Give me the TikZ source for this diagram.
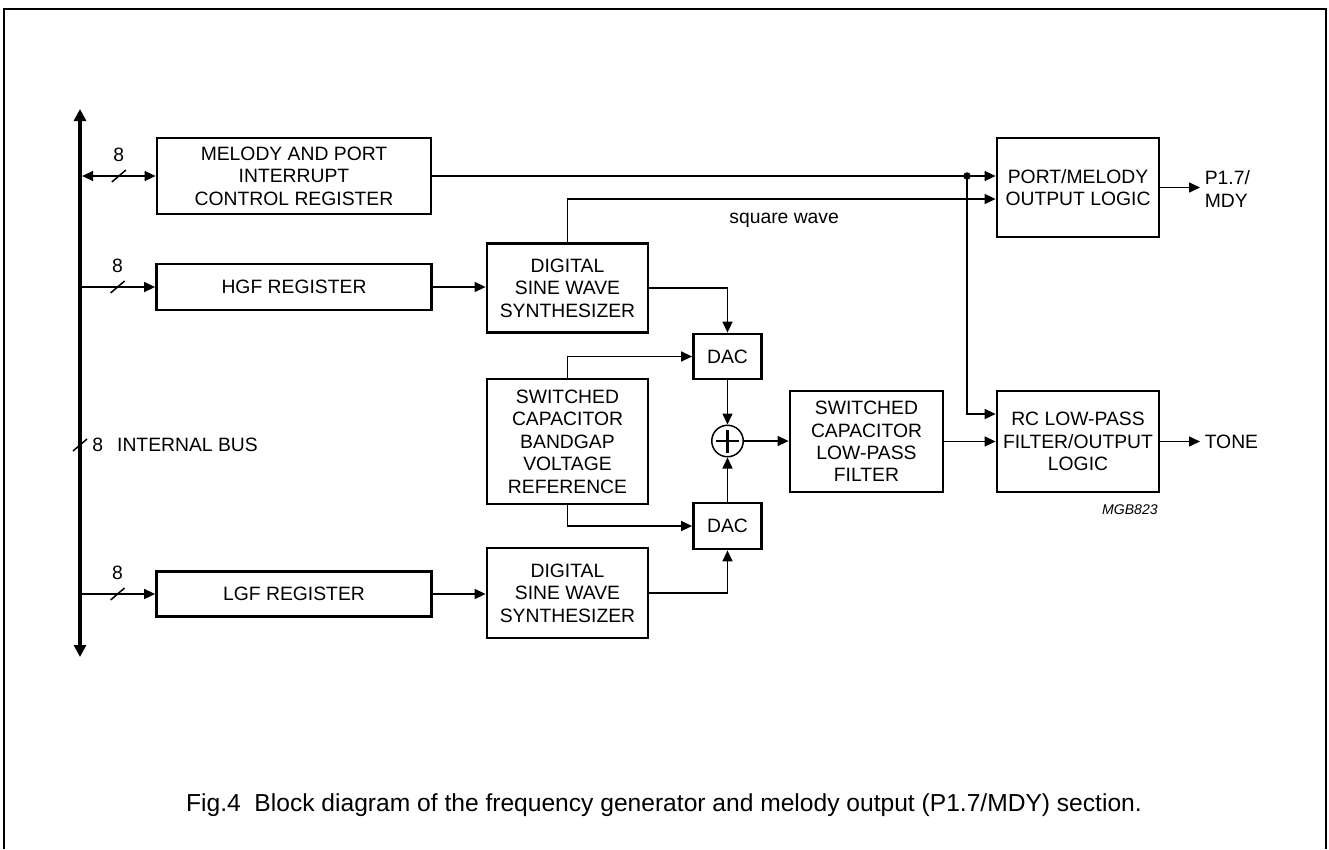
\documentclass[tikz,border=0pt]{standalone}
\usepackage{fontspec}
\setmainfont{Liberation Sans}
\usetikzlibrary{arrows.meta}

\newcommand{\busslash}[1]{\draw[wire] (#1) ++(-7,6) -- ++(14,-12);}

\tikzset{
  blk/.style={draw, line width=1.6pt, inner sep=0pt, align=center},
  wire/.style={line width=0.85pt},
  sumnode/.style={draw, circle, line width=0.85pt, minimum size=0.63cm, inner sep=0pt,
    path picture={
      \draw[line width=1.2pt] ([xshift=-0.23cm]path picture bounding box.center) -- ([xshift=0.23cm]path picture bounding box.center);
      \draw[line width=1.2pt] ([yshift=-0.23cm]path picture bounding box.center) -- ([yshift=0.23cm]path picture bounding box.center);}},
}

\begin{document}
\begin{tikzpicture}[x=0.02cm,y=-0.02cm,
  >={Triangle[length=0.22cm,width=0.2cm]},
  font=\fontsize{11}{12.8}\selectfont]
\useasboundingbox (0,0) rectangle (1329,849);
\draw[line width=1.1pt] (4,849) -- (4,9) -- (1326,9) -- (1326,849);

% internal bus
\coordinate (bustop) at (80,109);
\coordinate (busbot) at (80,657);
\coordinate (busr) at ([xshift=1.2pt]bustop);
\draw[line width=2.3pt,{Triangle[length=0.24cm,width=0.24cm]}-{Triangle[length=0.24cm,width=0.24cm]}] (bustop) -- (busbot);
\busslash{80,445}
\node[anchor=west, inner sep=0pt] (bus) at (92,445) {8\hspace{8pt}INTERNAL BUS};

% blocks
\node[blk, minimum width=5.48cm, minimum height=1.52cm] (mel) at (294,176) {MELODY AND PORT\\INTERRUPT\\CONTROL REGISTER};
\node[blk, minimum width=5.5cm, minimum height=0.92cm] (hgf) at (294,287) {HGF REGISTER};
\node[blk, minimum width=5.5cm, minimum height=0.9cm] (lgf) at (294,594) {LGF REGISTER};
\node[blk, minimum width=3.22cm, minimum height=1.78cm] (synh) at (567.5,288) {DIGITAL\\SINE WAVE\\SYNTHESIZER};
\node[blk, minimum width=3.22cm, minimum height=1.8cm] (synl) at (567.5,593) {DIGITAL\\SINE WAVE\\SYNTHESIZER};
\node[blk, minimum width=3.22cm, minimum height=2.5cm] (bgref) at (567.5,441.5) {SWITCHED\\CAPACITOR\\BANDGAP\\VOLTAGE\\REFERENCE};
\node[blk, minimum width=1.36cm, minimum height=0.9cm] (dach) at (727.5,356.5) {DAC};
\node[blk, minimum width=1.36cm, minimum height=0.92cm] (dacl) at (727.5,526) {DAC};
\node[sumnode] (sum) at (727.5,441) {};
\node[blk, minimum width=3.06cm, minimum height=2.02cm] (scf) at (866.5,441.5) {SWITCHED\\CAPACITOR\\LOW-PASS\\FILTER};
\node[blk, minimum width=3.24cm, minimum height=1.98cm] (pml) at (1078,187.5) {PORT/MELODY\\OUTPUT LOGIC};
\node[blk, minimum width=3.24cm, minimum height=2.02cm] (rc) at (1078,441.5) {RC LOW-PASS\\FILTER/OUTPUT\\LOGIC};

% outputs and labels
\node[anchor=west, inner sep=2.5pt, align=left] (p17) at (1200,189) {P1.7/\\MDY};
\node[anchor=west, inner sep=2.5pt] (tone) at (1200,441.5) {TONE};
\node[anchor=base west, inner sep=0pt] (sqw) at (729,223) {square wave};
\node[anchor=east, inner sep=0pt, font=\fontsize{8}{9}\selectfont\itshape] (mgb) at (1158,510) {MGB823};

% bus taps
\draw[wire,<->] (busr |- mel.west) -- coordinate[midway] (tmel) (mel.west);
\draw[wire,->] (bustop |- hgf.west) -- coordinate[midway] (thgf) (hgf.west);
\draw[wire,->] (bustop |- lgf.west) -- coordinate[midway] (tlgf) (lgf.west);
\busslash{tmel}
\busslash{thgf}
\busslash{tlgf}
\node (w1) at ([yshift=0.43cm]tmel) {8};
\node (w2) at ([yshift=0.43cm]thgf) {8};
\node (w3) at ([yshift=0.43cm]tlgf) {8};

% signal paths
\draw[wire,->] (hgf.east) -- (hgf.east -| synh.west);
\draw[wire,->] (lgf.east) -- (lgf.east -| synl.west);
\draw[wire,->] (synh.east) -| (dach.north);
\draw[wire,->] (synl.east) -| (dacl.south);
\draw[wire,->] (bgref.north) |- (dach.west);
\draw[wire,->] (bgref.south) |- (dacl.west);
\draw[wire,->] (dach.south) -- (sum.north);
\draw[wire,->] (dacl.north) -- (sum.south);
\draw[wire,->] (sum.east) -- (sum.east -| scf.west);
\draw[wire,->] (scf.east) -- (scf.east -| rc.west);
\coordinate (sqin) at ([yshift=-0.23cm]pml.west);
\draw[wire,->] (synh.north) |- (sqin);
\draw[wire,->] (mel.east) -- (mel.east -| pml.west);
\coordinate (jn) at (967,176);
\fill (jn) circle (0.075cm);
\draw[wire,->] (jn) |- ([yshift=0.55cm]rc.west);
\draw[wire,->] (pml.east) -- (pml.east -| p17.west);
\draw[wire,->] (rc.east) -- (tone.west);

\node[font=\fontsize{14}{16}\selectfont] (cap) at (664,805) {Fig.4\ \ Block diagram of the frequency generator and melody output (P1.7/MDY) section.};
\end{tikzpicture}
\end{document}
